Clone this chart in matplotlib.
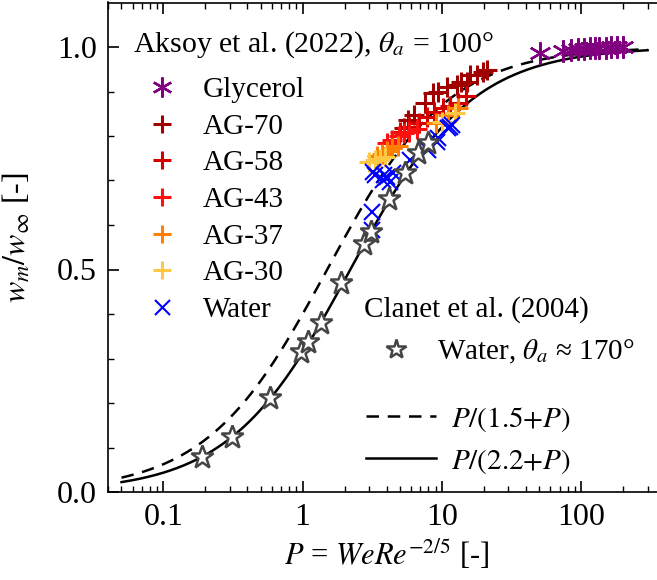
import numpy as np
import matplotlib
matplotlib.use("Agg")
import matplotlib.pyplot as plt
from matplotlib.lines import Line2D
from matplotlib.ticker import FixedLocator, NullFormatter

plt.rcParams['font.family'] = ['Liberation Serif', 'DejaVu Serif']
plt.rcParams['mathtext.fontset'] = 'stix'

# Aksoy et al. (2022) data
glycerol_P = [51, 74, 85, 95, 105, 115, 125, 135, 150, 165, 180, 200]
glycerol_w = [0.987, 0.99, 0.993, 0.995, 0.996, 0.997, 0.997, 0.998, 0.998, 0.999, 0.999, 0.999]

ag70_P = [5.3, 5.7, 6.3, 7.6, 8.7, 9.3, 10.9, 12.9, 13.6, 15.2, 16.0, 18.0, 19.8, 21.2]
ag70_w = [0.818, 0.836, 0.847, 0.874, 0.897, 0.899, 0.91, 0.915, 0.921, 0.921, 0.937, 0.937, 0.944, 0.948]

ag58_P = [5.0, 5.8, 6.8, 7.8, 8.8, 10.2, 11.5, 13.0, 15.0]
ag58_w = [0.81, 0.82, 0.83, 0.843, 0.853, 0.862, 0.868, 0.875, 0.89]

ag43_P = [4.0, 4.4, 4.9, 5.3, 5.8, 6.6]
ag43_w = [0.784, 0.792, 0.80, 0.806, 0.81, 0.815]

ag37_P = [3.4, 3.7, 4.0, 4.4, 4.8, 9.0, 11.0, 13.0]
ag37_w = [0.755, 0.76, 0.767, 0.772, 0.778, 0.83, 0.848, 0.862]

ag30_P = [3.0, 3.3, 3.6, 3.9, 10.0, 12.5]
ag30_w = [0.742, 0.745, 0.748, 0.752, 0.832, 0.852]

water_P = [3.16, 3.16, 3.22, 3.33, 3.75, 3.82, 4.06, 4.27, 4.48, 5.91, 7.98, 9.27, 9.4, 11.1, 11.5, 11.9]
water_w = [0.589, 0.629, 0.719, 0.712, 0.701, 0.712, 0.708, 0.697, 0.717, 0.746, 0.769, 0.787, 0.796, 0.818, 0.82, 0.825]

# Clanet et al. (2004)
clanet_P = [0.19, 0.31, 0.58, 0.98, 1.1, 1.35, 1.9, 2.78, 3.08, 4.15, 5.4, 6.77, 7.98]
clanet_w = [0.078, 0.124, 0.211, 0.315, 0.338, 0.38, 0.47, 0.557, 0.584, 0.659, 0.717, 0.762, 0.784]

series = [
    ("Glycerol", glycerol_P, glycerol_w, "#800080", (6, 2, 0), 16, 1.7),
    ("AG-70", ag70_P, ag70_w, "#a00000", "+", 15, 2.2),
    ("AG-58", ag58_P, ag58_w, "#d40000", "+", 15, 2.2),
    ("AG-43", ag43_P, ag43_w, "#ff1010", "+", 15, 2.2),
    ("AG-37", ag37_P, ag37_w, "#ff8000", "+", 15, 2.2),
    ("AG-30", ag30_P, ag30_w, "#ffc844", "+", 15, 2.2),
    ("Water", water_P, water_w, "#0000ff", "x", 12, 1.5),
]

fig = plt.figure(figsize=(6.57, 5.8), dpi=100)
ax = fig.add_axes([108 / 657, 88 / 580, 557 / 657, 489.5 / 580])

P = np.logspace(np.log10(0.05), np.log10(300), 400)
ax.plot(P, P / (1.5 + P), color='black', lw=1.8, dashes=(5, 3.5), zorder=1)
ax.plot(P, P / (2.2 + P), color='black', lw=1.8, zorder=1)

handles1 = []
for name, xs, ys, col, mk, ms, mew in series:
    ax.plot(xs, ys, ls='none', marker=mk, color=col, ms=ms, mew=mew, zorder=2)
    handles1.append(Line2D([], [], ls='none', marker=mk, color=col, ms=ms * 0.9, mew=mew))

ax.plot(clanet_P, clanet_w, ls='none', marker='*', ms=17, mfc='white', mec='#454545', mew=1.8, zorder=3)

ax.set_xscale('log')
ax.set_xlim(0.04, 400)
ax.set_ylim(0, 1.1)
ax.set_xticks([0.1, 1, 10, 100])
ax.set_xticklabels(['0.1', '1', '10', '100'])
ax.xaxis.set_minor_formatter(NullFormatter())
ax.set_yticks([0.0, 0.5, 1.0])
ax.set_yticklabels(['0.0', '0.5', '1.0'])
ax.yaxis.set_minor_locator(FixedLocator(np.arange(0.1, 1.1, 0.1)))
ax.tick_params(which='both', direction='in', top=True, right=False, labelsize=23, pad=8)
ax.tick_params(which='major', length=8, width=1.2)
ax.tick_params(which='minor', length=4.5, width=1.0)
ax.spines['right'].set_visible(False)
for s in ['left', 'bottom', 'top']:
    ax.spines[s].set_linewidth(1.2)

ax.set_xlabel(r'$P$ = $WeRe^{-2/5}$ [-]', fontsize=22, labelpad=4)
ax.set_ylabel(r'$w_m/w_\infty$ [-]', fontsize=23)
ax.yaxis.set_label_coords(-0.135, 0.52)

leg1 = ax.legend(handles1, [s[0] for s in series], loc='upper left',
                 bbox_to_anchor=(25 / 557, 1 - 27 / 489.5),
                 title=r'Aksoy et al. (2022), $\theta_a$ = 100°', title_fontsize=21.5,
                 fontsize=21, frameon=False, alignment='left', handlelength=2.0,
                 handletextpad=0.4, labelspacing=0.35, borderaxespad=0, borderpad=0)
leg1._legend_box.sep = 12
ax.add_artist(leg1)

star_h = Line2D([], [], ls='none', marker='*', ms=15, mfc='white', mec='#454545', mew=1.8)
leg2 = ax.legend([star_h], [r'Water, $\theta_a$ ≈ 170°'], loc='upper left',
                 bbox_to_anchor=(256 / 557, 1 - 294 / 489.5),
                 title='Clanet et al. (2004)', title_fontsize=21, fontsize=21,
                 frameon=False, alignment='left', handlelength=2.2,
                 handletextpad=0.3, borderaxespad=0, borderpad=0)
ax.add_artist(leg2)

line_h = [Line2D([], [], color='black', lw=1.8, dashes=(5, 3.5)),
          Line2D([], [], color='black', lw=1.8)]
ax.legend(line_h, [r'$P/(1.5{+}P)$', r'$P/(2.2{+}P)$'], loc='upper left',
          bbox_to_anchor=(258 / 557, 1 - 402 / 489.5), fontsize=21,
          frameon=False, handlelength=2.4, handletextpad=0.5, labelspacing=0.45,
          borderaxespad=0, borderpad=0)

fig.savefig('out.png', dpi=100)
